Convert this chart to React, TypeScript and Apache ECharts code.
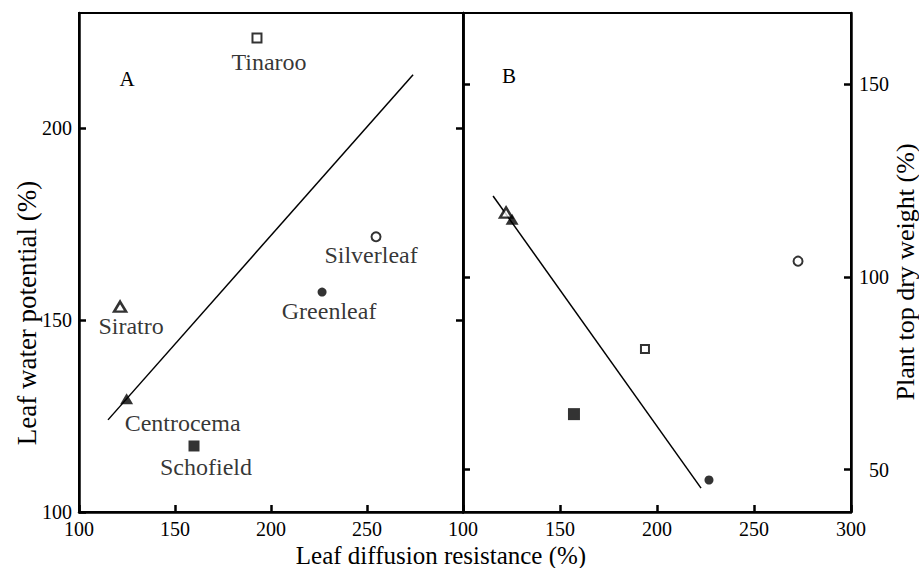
import React, { useEffect, useRef } from "react";
import * as echarts from "echarts";

// ---- data ----
const varieties = ["Tinaroo", "Silverleaf", "Greenleaf", "Siratro", "Centrocema", "Schofield"];
const markerKinds = ["openSquare", "openCircle", "filledCircle", "openTriangle", "filledTriangle", "filledSquare"];

// Panel A: leaf diffusion resistance (%) vs leaf water potential (%)
const panelAResistance = [192.7, 254.7, 226.6, 121.4, 124.8, 159.9];
const panelAWaterPotential = [223.5, 171.7, 157.3, 153.5, 129.5, 117.2];
// Panel B: leaf diffusion resistance (%) vs plant top dry weight (%)
const panelBResistance = [193.8, 272.7, 226.8, 122.2, 125.3, 157.2];
const panelBDryWeight = [81.3, 104.1, 47.3, 116.7, 115.0, 64.4];

// regression lines (end points)
const fitAResistance = [115.1, 274.0];
const fitAWaterPotential = [124.0, 213.9];
const fitBResistance = [115.5, 222.7];
const fitBDryWeight = [121.0, 45.2];

const xTicks = [100, 150, 200, 250, 300];
const xTicksA = [100, 150, 200, 250];
const yTicksA = [100, 150, 200];
const yTicksB = [50, 100, 150];

// ---- layout (label offsets in px, panel A only) ----
const labelOffsetsA: number[][] = [[12, 24], [-5, 18], [7, 19], [11, 19], [56, 24], [12, 21]];

const FONT = "'Liberation Serif', 'Times New Roman', serif";

function markerStyle(kind: string, big: boolean) {
  switch (kind) {
    case "openSquare":
      return { symbol: "rect", symbolSize: big ? 8 : 9, itemStyle: { color: "#fff", borderColor: "#000", borderWidth: 2 } };
    case "openCircle":
      return { symbol: "circle", symbolSize: 9, itemStyle: { color: "#fff", borderColor: "#000", borderWidth: 2 } };
    case "filledCircle":
      return { symbol: "circle", symbolSize: 9, itemStyle: { color: "#000" } };
    case "openTriangle":
      return { symbol: "triangle", symbolSize: [12, 10], itemStyle: { color: "#fff", borderColor: "#000", borderWidth: 2.5 } };
    case "filledTriangle":
      return { symbol: "triangle", symbolSize: [13, 11], itemStyle: { color: "#000" } };
    default:
      return { symbol: "rect", symbolSize: big ? 12 : 11, itemStyle: { color: "#000" } };
  }
}

export default function App() {
  const ref = useRef<HTMLDivElement>(null);
  useEffect(() => {
    if (!ref.current) return;
    const chart = echarts.init(ref.current, undefined, { renderer: "svg" });

    const axisLine = { lineStyle: { color: "#000", width: 2.5 } };
    const tick = (vals: number[]) => ({
      inside: true,
      length: 7,
      customValues: vals,
      lineStyle: { color: "#000", width: 2.5 },
    });
    const lbl = { color: "#000", fontFamily: FONT, fontSize: 20 };

    const dataA = varieties.map((name, i) => ({
      name,
      value: [panelAResistance[i], panelAWaterPotential[i]],
      ...markerStyle(markerKinds[i], false),
      label: {
        show: true,
        position: "inside",
        formatter: name,
        offset: labelOffsetsA[i],
        align: "center",
        verticalAlign: "middle",
        color: "#000",
        fontFamily: FONT,
        fontSize: 24,
      },
    }));
    const dataB = varieties.map((name, i) => ({
      name,
      value: [panelBResistance[i], panelBDryWeight[i]],
      ...markerStyle(markerKinds[i], true),
    }));

    const txt = (text: string, size: number, extra: any) => ({
      type: "text",
      ...extra,
      style: { text, fontFamily: FONT, fontSize: size, fill: "#000", align: "center", verticalAlign: "middle" },
    });

    chart.setOption({
      animation: false,
      backgroundColor: "#fff",
      grid: [
        { left: 79, top: 13, width: 384, height: 499, show: true, borderColor: "#000", borderWidth: 2 },
        { left: 463, top: 13, width: 388, height: 499, show: true, borderColor: "#000", borderWidth: 2 },
      ],
      xAxis: [
        {
          gridIndex: 0, type: "value", min: 100, max: 300, interval: 50,
          axisLine, axisTick: tick(xTicks),
          axisLabel: { ...lbl, customValues: xTicksA, margin: 7 },
          splitLine: { show: false },
        },
        {
          gridIndex: 1, type: "value", min: 100, max: 300, interval: 50,
          axisLine, axisTick: tick(xTicks),
          axisLabel: { ...lbl, customValues: xTicks, margin: 7 },
          splitLine: { show: false },
        },
      ],
      yAxis: [
        {
          gridIndex: 0, type: "value", position: "left", min: 100, max: 230,
          axisLine: { show: true, ...axisLine }, axisTick: tick(yTicksA),
          axisLabel: { ...lbl, customValues: yTicksA, margin: 7 },
          splitLine: { show: false },
        },
        {
          gridIndex: 0, type: "value", position: "right", min: 100, max: 230,
          axisLine: { show: true, ...axisLine }, axisTick: tick([150, 200]),
          axisLabel: { show: false },
          splitLine: { show: false },
        },
        {
          gridIndex: 1, type: "value", position: "left", min: 39, max: 168.5,
          axisLine: { show: true, ...axisLine }, axisTick: tick(yTicksB),
          axisLabel: { show: false },
          splitLine: { show: false },
        },
        {
          gridIndex: 1, type: "value", position: "right", min: 39, max: 168.5,
          axisLine: { show: true, ...axisLine }, axisTick: tick(yTicksB),
          axisLabel: { ...lbl, customValues: yTicksB, align: "right", margin: 38 },
          splitLine: { show: false },
        },
      ],
      series: [
        {
          type: "line", xAxisIndex: 0, yAxisIndex: 0, showSymbol: false, silent: true,
          data: fitAResistance.map((x, i) => [x, fitAWaterPotential[i]]),
          lineStyle: { color: "#000", width: 1.5 },
        },
        {
          type: "line", xAxisIndex: 1, yAxisIndex: 3, showSymbol: false, silent: true,
          data: fitBResistance.map((x, i) => [x, fitBDryWeight[i]]),
          lineStyle: { color: "#000", width: 1.5 },
        },
        { type: "scatter", xAxisIndex: 0, yAxisIndex: 0, data: dataA, z: 5 },
        { type: "scatter", xAxisIndex: 1, yAxisIndex: 3, data: dataB, z: 5 },
      ],
      graphic: [
        txt("A", 21, { x: 127, y: 79 }),
        txt("B", 21, { x: 509, y: 76 }),
        txt("Leaf diffusion resistance (%)", 25, { x: 441, y: 555 }),
        txt("Leaf water potential (%)", 27, { x: 27, y: 313, rotation: Math.PI / 2 }),
        txt("Plant top dry weight (%)", 26, { x: 905, y: 272, rotation: Math.PI / 2 }),
      ],
    });
    return () => chart.dispose();
  }, []);
  return <div ref={ref} style={{ position: "fixed", left: 0, top: 0, width: 919, height: 568 }} />;
}
